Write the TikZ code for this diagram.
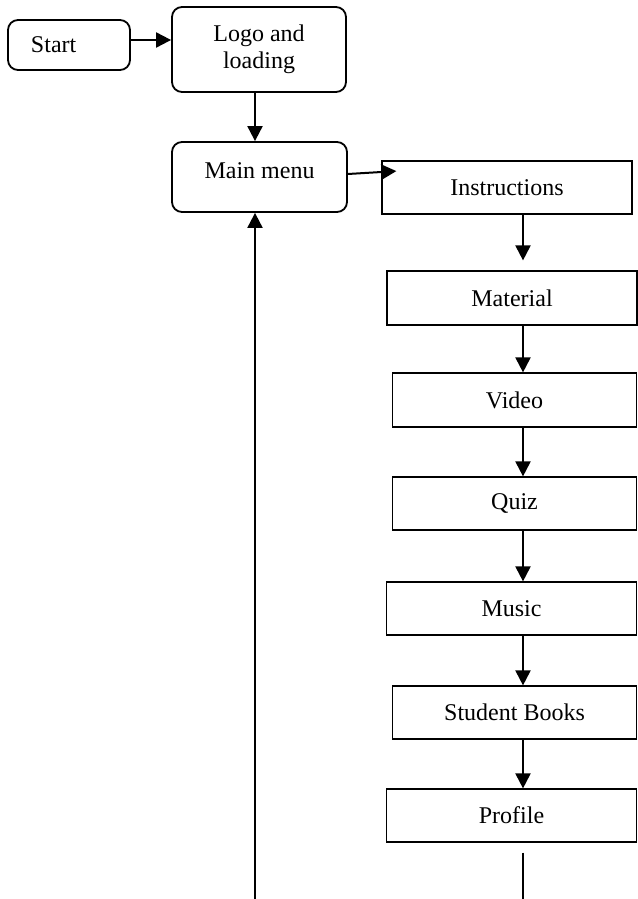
\documentclass[tikz,border=0pt]{standalone}
\usepackage{fontspec}
\setmainfont{Liberation Serif}
\usetikzlibrary{arrows.meta}
\begin{document}
\begin{tikzpicture}[x=0.5pt,y=-0.5pt,font=\fontsize{12}{13.5}\selectfont,
  rbox/.style={draw,line width=0.9pt,rounded corners=5pt,align=center,inner sep=0pt},
  sbox/.style={draw,line width=0.6pt,inner sep=0pt,minimum height=26.5pt},
  arr/.style={line width=1pt,-{Triangle[length=7.5pt,width=7.5pt]}},
  plain/.style={line width=1pt}]
\useasboundingbox (0,0) rectangle (637,899);
\node[rbox,minimum height=25pt,text width=38pt,inner xsep=11.5pt,align=left] (start) at (69,45) {Start};
\node[rbox,minimum width=87pt,minimum height=42.5pt] (logo) at (259,49.5) {Logo and\\loading};
\node[rbox,minimum width=87.5pt,minimum height=35pt,text depth=6pt] (main) at (259.5,177) {Main menu};
\node[sbox,minimum width=125pt] (instr) at (507,187.5) {Instructions};
\node[sbox,minimum width=125pt,minimum height=27pt] (mat) at (512,298) {Material};
\node[sbox,minimum width=122pt,minimum height=27pt] (video) at (514.5,400) {Video};
\node[sbox,minimum width=122pt] (quiz) at (514.5,503.5) {Quiz};
\node[sbox,minimum width=125pt] (music) at (511.5,608.5) {Music};
\node[sbox,minimum width=122pt] (books) at (514.5,712.5) {Student Books};
\node[sbox,minimum width=125pt] (profile) at (511.5,815.5) {Profile};
\coordinate (lspine) at (255,0);
\coordinate (rspine) at (523,0);
\coordinate (lend) at (255,899);
\coordinate (rend) at (523,899);
\draw[arr] ([yshift=2.5pt]start.east) -- ([yshift=2.5pt]start.east -| logo.west);
\draw[arr] (logo.south -| lspine) -- (main.north -| lspine);
\draw[arr,shorten >=-7.5pt] ([yshift=1.5pt]main.east) -- ([yshift=7.75pt]instr.west);
\draw[arr,shorten >=5pt] (instr.south -| rspine) -- (mat.north -| rspine);
\draw[arr] (mat.south -| rspine) -- (video.north -| rspine);
\draw[arr] (video.south -| rspine) -- (quiz.north -| rspine);
\draw[arr] (quiz.south -| rspine) -- (music.north -| rspine);
\draw[arr] (music.south -| rspine) -- (books.north -| rspine);
\draw[arr] (books.south -| rspine) -- (profile.north -| rspine);
\draw[plain,shorten <=5pt] (profile.south -| rspine) -- (rend);
\draw[arr] (lend) -- (main.south -| lend);
\end{tikzpicture}
\end{document}
